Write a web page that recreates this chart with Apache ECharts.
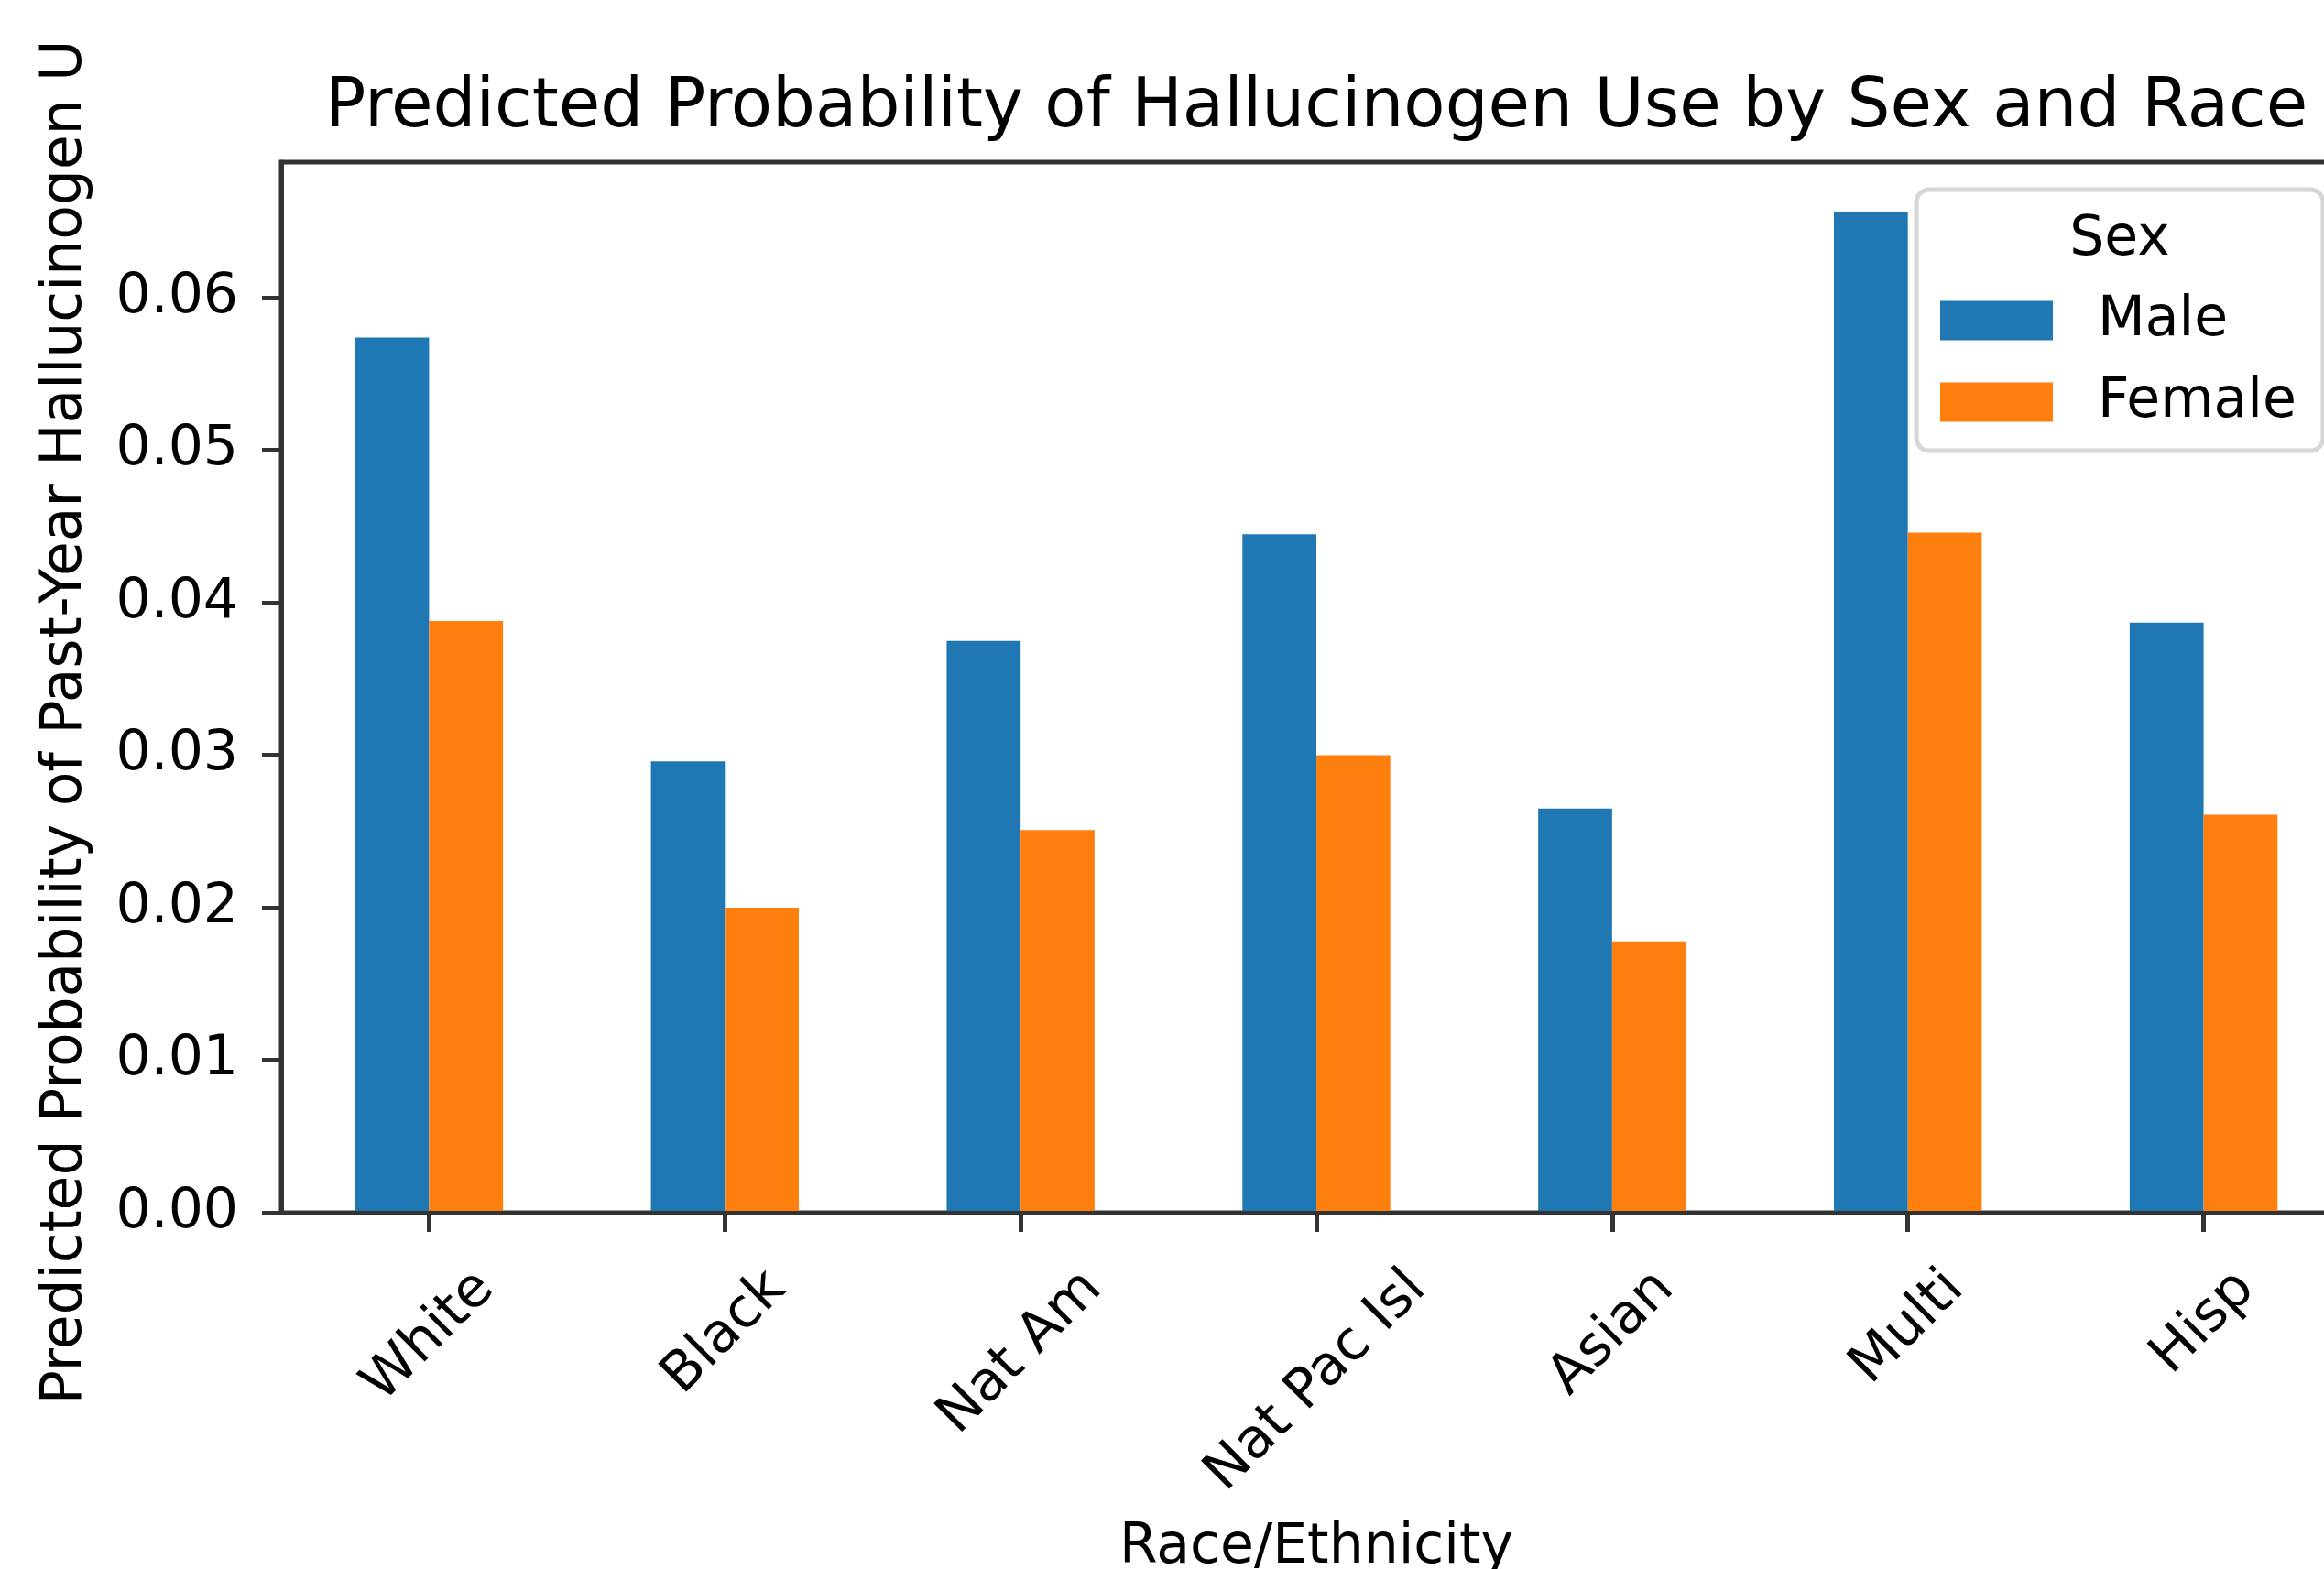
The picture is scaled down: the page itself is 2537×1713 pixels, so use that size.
<!DOCTYPE html>
<html>
<head>
<meta charset="utf-8">
<script src="https://cdn.jsdelivr.net/npm/echarts@6/dist/echarts.min.js"></script>
<style>
html,body{margin:0;padding:0;background:#fff;}
#chart{width:2537px;height:1713px;}
</style>
</head>
<body>
<div id="chart"></div>
<script>
const categories = ['White', 'Black', 'Nat Am', 'Nat Pac Isl', 'Asian', 'Multi', 'Hisp'];
const maleValues = [0.0574, 0.0296, 0.0375, 0.0445, 0.0265, 0.0656, 0.0387];
const femaleValues = [0.0388, 0.0200, 0.0251, 0.0300, 0.0178, 0.0446, 0.0261];
const yTickValues = [0, 0.01, 0.02, 0.03, 0.04, 0.05, 0.06];
const seriesNames = ['Male', 'Female'];

const FONT = 'DejaVu Sans';
const FS = 60;
const LABEL_FONT = FS + 'px "' + FONT + '"';
const canvas = document.createElement('canvas');
const ctx = canvas.getContext('2d');
ctx.font = LABEL_FONT;
const TEXT_H = 62;     // height of text box used for rotated label layout
const LABEL_PAD = 52;  // distance from axis line to top of rotated label box
const C45 = Math.SQRT1_2;

const chart = echarts.init(document.getElementById('chart'), null, { renderer: 'canvas' });
chart.setOption({
  animation: false,
  backgroundColor: '#ffffff',
  textStyle: { fontFamily: FONT },
  title: [
    {
      text: 'Predicted Probability of Hallucinogen Use by Sex and Race',
      left: 1437, top: 82, padding: 0, textAlign: 'center', z: 10,
      textStyle: { fontFamily: FONT, fontSize: 74, fontWeight: 'normal', color: '#000' }
    },
    {
      text: 'Sex',
      left: 2314, top: 232, padding: 0, textAlign: 'center', z: 10,
      textStyle: { fontFamily: FONT, fontSize: 60, fontWeight: 'normal', color: '#000' }
    }
  ],
  legend: {
    orient: 'vertical',
    left: 2092, top: 207,
    padding: [113, 29, 23, 26],
    itemWidth: 123, itemHeight: 43, itemGap: 29,
    icon: 'rect',
    backgroundColor: 'rgba(255,255,255,0.8)',
    borderColor: '#d6d6d6', borderWidth: 5, borderRadius: 14,
    textStyle: { fontFamily: FONT, fontSize: 60, color: '#000', padding: [0, 0, 0, 44] },
    data: seriesNames,
    z: 5
  },
  grid: {
    left: 307, top: 177, right: -30, bottom: 389,
    containLabel: false, outerBoundsMode: 'none',
    show: true, borderColor: '#333', borderWidth: 5, backgroundColor: 'transparent'
  },
  xAxis: {
    type: 'category',
    data: categories,
    z: 10,
    name: 'Race/Ethnicity',
    nameLocation: 'middle',
    nameGap: 336,
    nameMoveOverlap: false,
    nameTextStyle: { fontFamily: FONT, fontSize: 60, color: '#000', verticalAlign: 'top' },
    axisLine: { show: true, lineStyle: { color: '#333', width: 5 } },
    axisTick: { show: true, alignWithLabel: true, length: 21, lineStyle: { color: '#333', width: 5 } },
    axisLabel: { show: false, interval: 0 },
    splitLine: { show: false }
  },
  yAxis: {
    type: 'value',
    min: 0, max: 0.0689,
    z: 10,
    name: 'Predicted Probability of Past-Year Hallucinogen U',
    nameLocation: 'middle',
    nameRotate: 90,
    nameGap: 204,
    nameMoveOverlap: false,
    nameTextStyle: { fontFamily: FONT, fontSize: 61.5, color: '#000', padding: [0, 76, 0, 0] },
    axisLine: { show: true, lineStyle: { color: '#333', width: 5 } },
    axisTick: { show: true, length: 21, customValues: yTickValues, lineStyle: { color: '#333', width: 5 } },
    axisLabel: {
      customValues: yTickValues,
      formatter: function (v) { return v.toFixed(2); },
      margin: 47, fontFamily: FONT, fontSize: FS, color: '#000'
    },
    splitLine: { show: false }
  },
  series: [
    {
      name: seriesNames[0], type: 'bar', data: maleValues,
      itemStyle: { color: '#1f77b4' },
      barGap: '0%', barCategoryGap: '50%'
    },
    {
      name: seriesNames[1], type: 'bar', data: femaleValues,
      itemStyle: { color: '#ff7f0e' },
      barGap: '0%', barCategoryGap: '50%'
    },
    {
      // category tick labels, rotated 45° and centred under each tick
      name: 'tickLabels', type: 'custom', silent: true, clip: false, z: 20,
      data: categories.map(function (c, i) { return [i, 0]; }),
      renderItem: function (params, api) {
        const idx = api.value(0);
        const text = categories[idx];
        const p = api.coord([idx, 0]);
        const w = ctx.measureText(text).width;
        const cy = p[1] + LABEL_PAD + (w + TEXT_H) * C45 / 2;
        return {
          type: 'text',
          x: p[0], y: cy,
          rotation: Math.PI / 4,
          style: { text: text, x: 0, y: 0, align: 'center', verticalAlign: 'middle', font: LABEL_FONT, fill: '#000' }
        };
      }
    }
  ]
});
</script>
</body>
</html>
